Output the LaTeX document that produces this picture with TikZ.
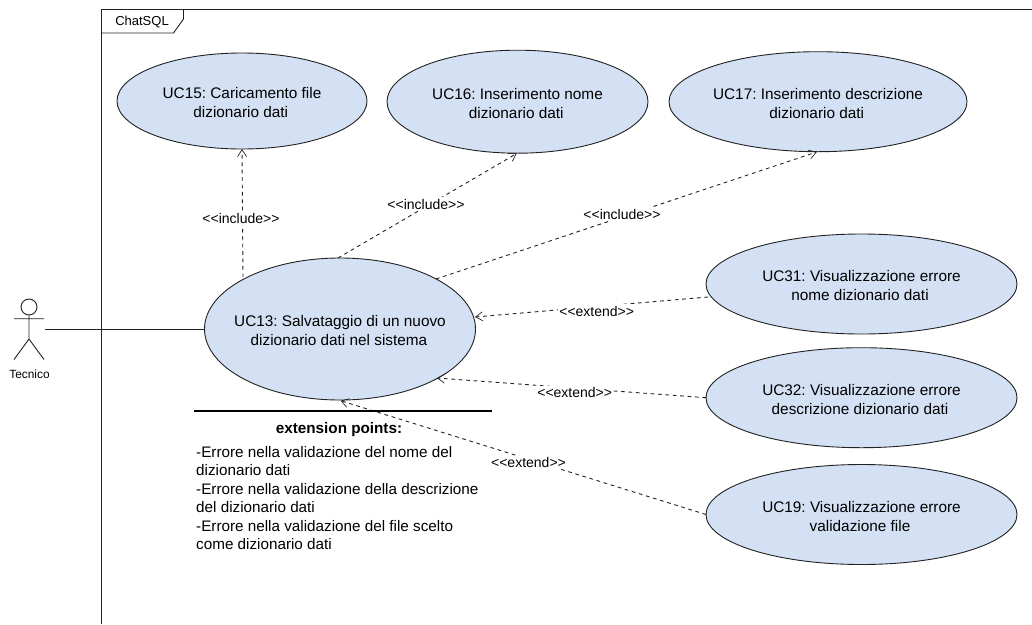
\documentclass[tikz,border=0pt]{standalone}
\usepackage{fontspec}
\setmainfont[Ligatures=NoCommon]{Liberation Sans}
\usetikzlibrary{arrows.meta,shapes.geometric}
\definecolor{ucfill}{HTML}{D4E1F5}
\definecolor{ln}{HTML}{222222}
\newcommand{\ltlt}{<\kern0pt<}
\newcommand{\gtgt}{>\kern0pt>}
% two centred lines, lowered a little and nudged to the left as in the reference
\newcommand{\uclines}[4]{\raisebox{-1.8pt}[\height][\depth]{\parbox{260pt}{\centering #3\hspace*{#1}\\#4\hspace*{#2}}}}
\tikzset{
 usecase/.style={draw=ln,fill=ucfill,ellipse,line width=0.9pt,inner xsep=-60pt,inner ysep=-30pt,outer sep=0pt,font=\frenchspacing\fontsize{15.35}{18.8}\selectfont},
 dep/.style={draw=ln,dash pattern=on 3.7pt off 3.7pt,line width=0.9pt},
 deparrow/.style={dep,-{Straight Barb[length=7pt,width=9pt,line width=0.7pt]}},
 stereo/.style={fill=white,inner xsep=1pt,inner ysep=1.5pt,font=\fontsize{14}{16}\selectfont},
 solid line/.style={draw=ln,line width=0.9pt},
 plain text/.style={inner sep=0pt,align=left,anchor=north west,font=\frenchspacing\fontsize{15.25}{18.5}\selectfont}
}
\begin{document}
\begin{tikzpicture}[x=1pt,y=-1pt]
\useasboundingbox (0,0) rectangle (1032,624);
\fill[white] (0,0) rectangle (1032,624);
% frame
\coordinate (fTR) at (1032,9.5);
\coordinate (fTL) at (101.5,9.5);
\coordinate (fBL) at (101.5,624);
\draw[draw=ln,line width=1pt] (fBL) -- (fTL) -- (fTR);
\draw[draw=ln,line width=0.9pt] (101.5,33) -- (173.5,33) -- (183.5,19) -- (183.5,9.5);
\node[inner sep=0pt,font=\fontsize{13}{15}\selectfont] (tab) at (142,22) {ChatSQL};
% actor
\draw[solid line] (29,307) circle (8);
\draw[solid line] (29,315) -- (29,339) (14,318.7) -- (44,318.7) (29,339) -- (14,359.5) (29,339) -- (44,359.5);
\coordinate (actor) at (45,329);
\node[inner sep=0pt,font=\fontsize{11.9}{13}\selectfont] (tec) at (29.5,374) {Tecnico};
% use cases
\node[usecase,minimum width=250pt,minimum height=96pt] (uc15) at (242,101) {\uclines{6pt}{2.5pt}{UC15: Caricamento file}{dizionario dati}};
\node[usecase,minimum width=261pt,minimum height=103pt] (uc16) at (517.5,101.7) {\uclines{8pt}{2.5pt}{UC16: Inserimento nome}{dizionario dati}};
\node[usecase,minimum width=298pt,minimum height=100pt] (uc17) at (818,101.7) {\uclines{8pt}{2.5pt}{UC17: Inserimento descrizione}{dizionario dati}};
\node[usecase,minimum width=271pt,minimum height=142pt] (uc13) at (340,329) {\uclines{3pt}{2pt}{UC13: Salvataggio di un nuovo}{dizionario dati nel sistema}};
\node[usecase,minimum width=311pt,minimum height=100pt] (uc31) at (861.5,284) {\uclines{8pt}{3pt}{UC31: Visualizzazione errore}{nome dizionario dati}};
\node[usecase,minimum width=311pt,minimum height=100pt] (uc32) at (861.5,397.7) {\uclines{8pt}{3pt}{UC32: Visualizzazione errore}{descrizione dizionario dati}};
\node[usecase,minimum width=311pt,minimum height=100pt] (uc19) at (861.5,514.5) {\uclines{8pt}{3pt}{UC19: Visualizzazione errore}{validazione file}};
\draw[solid line] (actor) -- (uc13.west);
% dependencies
\coordinate (a15) at (243,277);
\coordinate (a16) at (338,258);
\coordinate (a17) at (436,279);
\coordinate (e13a) at (475,317);
\coordinate (e13b) at (437,378);
\coordinate (e13c) at (340.7,400.7);
\coordinate (t16) at (516.7,153.5);
\coordinate (t17) at (816.7,152);
\coordinate (s31) at (708,297);
\draw[deparrow] (a15) -- (uc15.south);
\draw[deparrow] (a16) -- (t16);
\draw[deparrow] (a17) -- (t17);
\draw[deparrow] (s31) -- (e13a);
\draw[deparrow] (uc32.west) -- (e13b);
\draw[deparrow] (uc19.west) -- (e13c);
\node[stereo] (l15) at (241,218) {\ltlt include\gtgt};
\node[stereo] (l16) at (426,204) {\ltlt include\gtgt};
\node[stereo] (l17) at (622,214) {\ltlt include\gtgt};
\node[stereo] (l31) at (596.7,311) {\ltlt extend\gtgt};
\node[stereo] (l32) at (574.7,392.7) {\ltlt extend\gtgt};
\node[stereo] (l19) at (528.5,462.3) {\ltlt extend\gtgt};
% extension points
\coordinate (rl) at (194,411);
\coordinate (rr) at (492,411);
\draw[draw=black,line width=2pt] (rl) -- (rr);
\node[inner sep=0pt,font=\bfseries\fontsize{15.25}{18}\selectfont] (ext) at (339,430) {extension points:};
\node[plain text] (pts) at (196,446) {-Errore nella validazione del nome del\\dizionario dati\\-Errore nella validazione della descrizione\\del dizionario dati\\-Errore nella validazione del file scelto\\come dizionario dati};
\end{tikzpicture}
\end{document}
